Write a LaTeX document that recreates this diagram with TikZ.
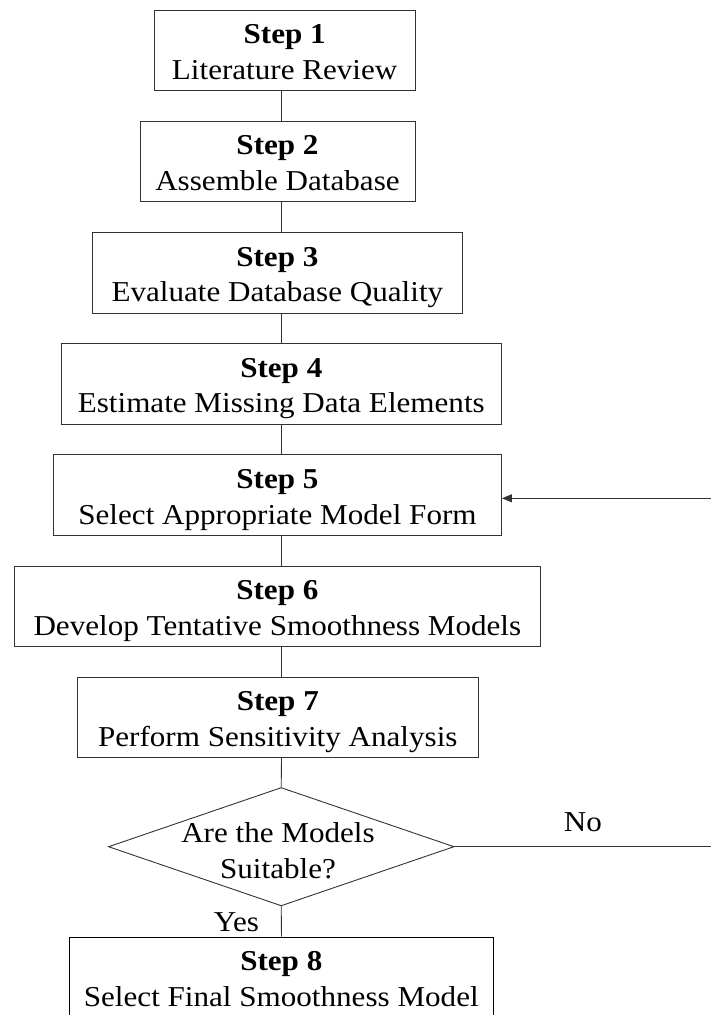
\documentclass[tikz,border=0pt]{standalone}
\usepackage{fontspec}
\setmainfont{Liberation Serif}[FakeStretch=1.08]
\usetikzlibrary{arrows.meta}
\newcommand\mytop{\rule{0pt}{33.8pt}}
\newcommand\mybot{\rule[-11pt]{0pt}{11pt}}
\begin{document}
\begin{tikzpicture}[x=1pt,y=-1pt,
  stepbox/.style={draw=black!80, line width=0.9pt, rectangle, inner xsep=0pt, inner ysep=0pt,
    align=center, anchor=north, font=\fontsize{28.8}{35.7}\selectfont},
  conn/.style={draw=black!80, line width=0.9pt},
  lbl/.style={font=\fontsize{28.8}{35.7}\selectfont, inner sep=0pt}]
\useasboundingbox[fill=white] (0,0) rectangle (711,1015);
\coordinate (spine) at (281.5,0);
\node[stepbox, minimum width=260.7pt] (s1) at (284.65,9.5) {\mytop\textbf{Step 1}\\Literature Review\mybot};
\node[stepbox, minimum width=275pt] (s2) at (277.5,120.7) {\mytop\textbf{Step 2}\\Assemble Database\mybot};
\node[stepbox, minimum width=369.3pt] (s3) at (277.35,232) {\mytop\textbf{Step 3}\\Evaluate Database Quality\mybot};
\node[stepbox, minimum width=440pt] (s4) at (281.3,343) {\mytop\textbf{Step 4}\\Estimate Missing Data Elements\mybot};
\node[stepbox, minimum width=448pt] (s5) at (277.5,454.3) {\mytop\textbf{Step 5}\\Select Appropriate Model Form\mybot};
\node[stepbox, minimum width=526.7pt] (s6) at (277.35,565.7) {\mytop\textbf{Step 6}\\Develop Tentative Smoothness Models\mybot};
\node[stepbox, minimum width=401pt] (s7) at (277.8,676.7) {\mytop\textbf{Step 7}\\Perform Sensitivity Analysis\mybot};
\node[stepbox, minimum width=424pt, draw=black] (s8) at (281.3,936.7) {\mytop\textbf{Step 8}\\Select Final Smoothness Model\mybot};
\coordinate (dt) at (281.2,787.7);
\coordinate (dr) at (453.9,846.7);
\coordinate (db) at (281.2,905.7);
\coordinate (dl) at (108.6,846.7);
\draw[conn] (dt) -- (dr) -- (db) -- (dl) -- cycle;
\node[lbl, align=center] (dq) at (278,851) {\rule{0pt}{20pt}Are the Models\\Suitable?};
\coordinate (fbN) at (711,846.7);
\coordinate (fbR) at (711,498.3);
\draw[conn] (s1.south -| spine) -- (s2.north -| spine);
\draw[conn] (s2.south -| spine) -- (s3.north -| spine);
\draw[conn] (s3.south -| spine) -- (s4.north -| spine);
\draw[conn] (s4.south -| spine) -- (s5.north -| spine);
\draw[conn] (s5.south -| spine) -- (s6.north -| spine);
\draw[conn] (s6.south -| spine) -- (s7.north -| spine);
\draw[conn] (s7.south -| spine) -- (dt);
\draw[conn] (db) -- (s8.north -| spine);
\draw[conn] (dr) -- (fbN);
\draw[conn, -{Triangle[length=10pt,width=8pt]}] (fbR) -- (s5.east |- fbR);
\node[lbl, anchor=base] (no) at (583,831.7) {No};
\node[lbl, anchor=base] (yes) at (236.4,931.7) {Yes};
\end{tikzpicture}
\end{document}
